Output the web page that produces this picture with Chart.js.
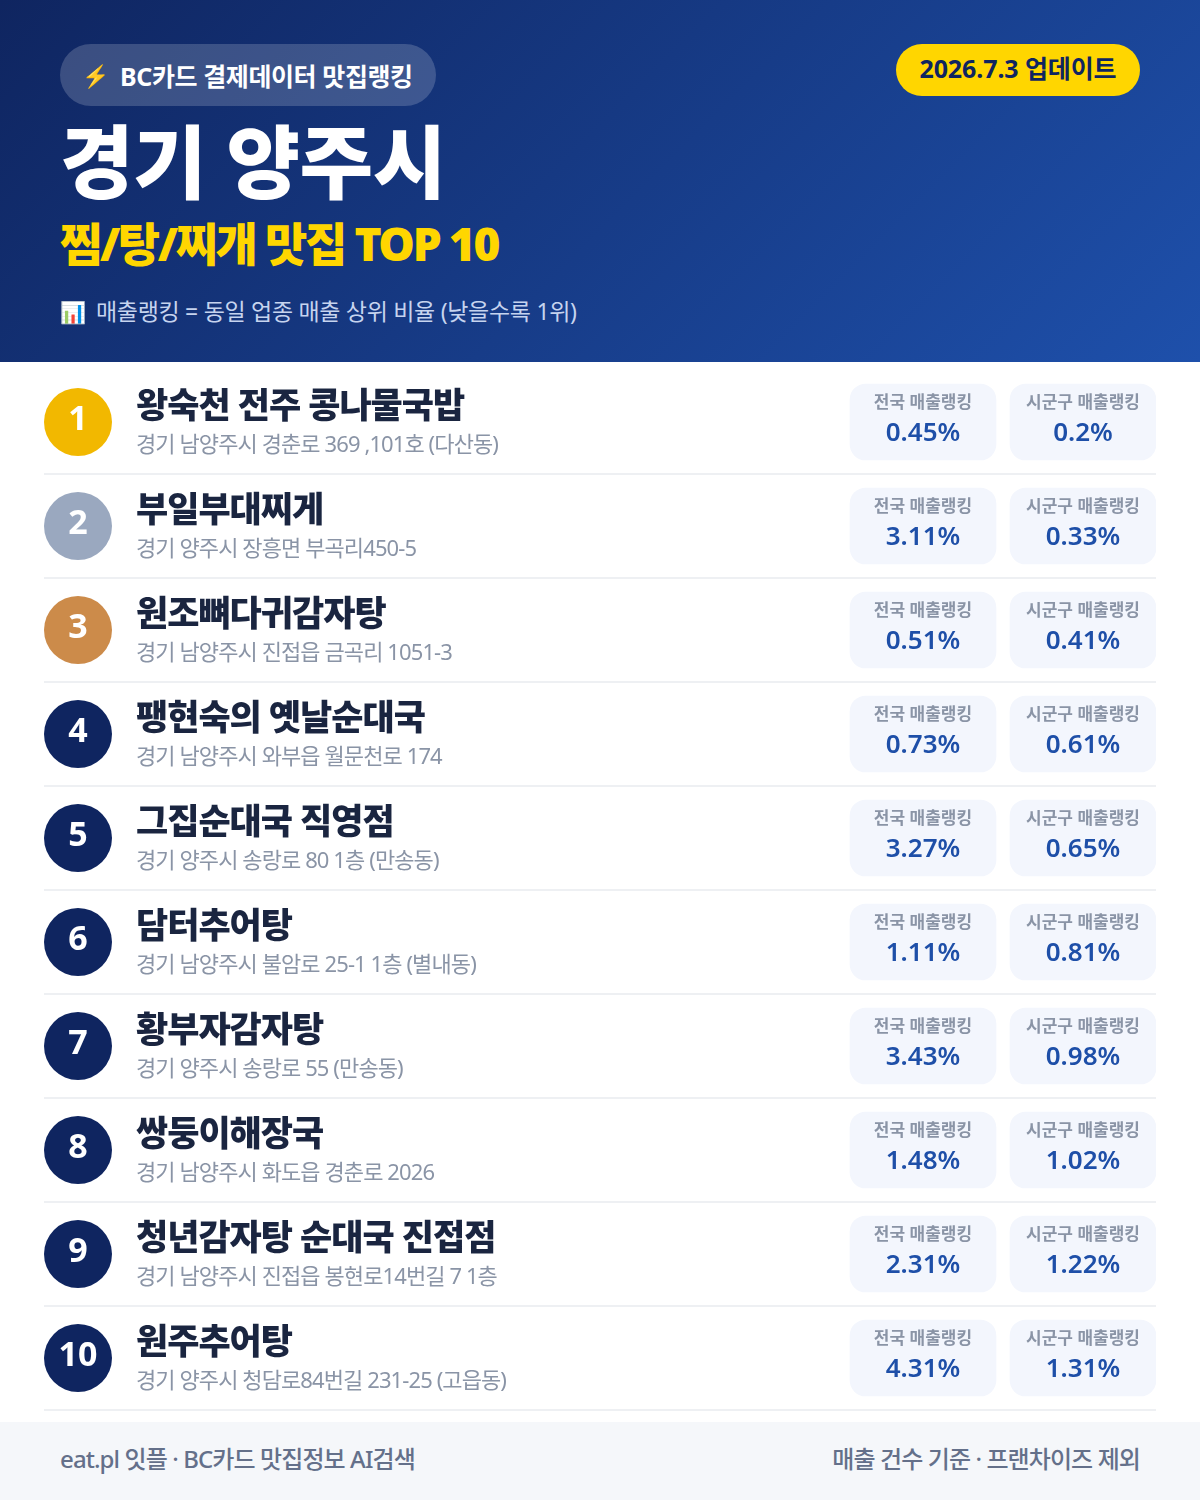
<!DOCTYPE html>
<html lang="ko">
<head>
<meta charset="utf-8">
<title>경기 양주시 찜/탕/찌개 맛집 TOP 10</title>
<script src="https://cdn.jsdelivr.net/npm/chart.js@4/dist/chart.umd.min.js"></script>
<style>
  * { box-sizing: border-box; }
  html, body { margin: 0; padding: 0; background: #fff; }
  body { width: 1200px; height: 1500px; position: relative; overflow: hidden; font-family: "Noto Sans", "Noto Sans CJK KR", sans-serif; }
  .header { position: absolute; left: 0; top: 0; width: 1200px; height: 362px; background: linear-gradient(135deg, #0f2560 0%, #1e50ab 100%); }
  .badge { position: absolute; left: 60px; top: 44px; width: 376px; height: 62px; border-radius: 31px; background: rgba(255,255,255,.18); color: #fff; font-size: 25px; font-weight: 700; line-height: 62px; white-space: nowrap; letter-spacing: -0.4px; }
  .badge .icon { position: absolute; left: 22px; top: 0; font-size: 22px; }
  .badge .txt { position: absolute; left: 60px; top: 1px; }
  .update { position: absolute; left: 896px; top: 44px; width: 244px; height: 52px; border-radius: 26px; background: #ffd600; color: #0f2560; font-size: 25px; font-weight: 700; line-height: 48px; text-align: center; white-space: nowrap; letter-spacing: -0.1px; }
  h1 { position: absolute; left: 60px; top: 103px; margin: 0; color: #fff; font-size: 80px; font-weight: 900; line-height: 116px; white-space: nowrap; letter-spacing: -0.5px; }
  h2 { position: absolute; left: 60px; top: 209px; margin: 0; color: #ffd600; font-size: 46px; font-weight: 900; line-height: 68px; white-space: nowrap; letter-spacing: -2.4px; }
  .note { position: absolute; left: 60px; top: 292px; color: #c6d4ef; font-size: 23px; line-height: 38px; white-space: nowrap; }
  .note .icon { font-size: 21px; }
  .note .txt { position: absolute; left: 36px; top: 0; letter-spacing: -0.3px; }
  .chart-wrap { position: absolute; left: 0; top: 362px; width: 1200px; height: 1060px; }
  .footer { position: absolute; left: 0; top: 1422px; width: 1200px; height: 78px; background: #f5f7fa; color: #64708a; font-size: 24px; font-weight: 500; line-height: 74px; letter-spacing: -0.9px; }
  .footer .l { position: absolute; left: 60px; }
  .footer .r { position: absolute; right: 60px; }
</style>
</head>
<body>
<div class="header">
  <div class="badge"><span class="icon">⚡</span><span class="txt">BC카드 결제데이터 맛집랭킹</span></div>
  <div class="update">2026.7.3 업데이트</div>
  <h1>경기 양주시</h1>
  <h2>찜/탕/찌개 맛집 TOP 10</h2>
  <div class="note"><span class="icon">📊</span><span class="txt">매출랭킹 = 동일 업종 매출 상위 비율 (낮을수록 1위)</span></div>
</div>
<div class="chart-wrap"><canvas id="rankChart" width="1200" height="1060"></canvas></div>
<div class="footer"><span class="l">eat.pl 잇플 · BC카드 맛집정보 AI검색</span><span class="r">매출 건수 기준 · 프랜차이즈 제외</span></div>
<script>
const ranks = ["1", "2", "3", "4", "5", "6", "7", "8", "9", "10"];
const names = ["왕숙천 전주 콩나물국밥", "부일부대찌게", "원조뼈다귀감자탕", "팽현숙의 옛날순대국", "그집순대국 직영점", "담터추어탕", "황부자감자탕", "쌍둥이해장국", "청년감자탕 순대국 진접점", "원주추어탕"];
const addresses = [
  "경기 남양주시 경춘로 369 ,101호 (다산동)",
  "경기 양주시 장흥면 부곡리450-5",
  "경기 남양주시 진접읍 금곡리 1051-3",
  "경기 남양주시 와부읍 월문천로 174",
  "경기 양주시 송랑로 80 1층 (만송동)",
  "경기 남양주시 불암로 25-1 1층 (별내동)",
  "경기 양주시 송랑로 55 (만송동)",
  "경기 남양주시 화도읍 경춘로 2026",
  "경기 남양주시 진접읍 봉현로14번길 7 1층",
  "경기 양주시 청담로84번길 231-25 (고읍동)"
];
const nationalPct = [0.45, 3.11, 0.51, 0.73, 3.27, 1.11, 3.43, 1.48, 2.31, 4.31];
const cityPct = [0.2, 0.33, 0.41, 0.61, 0.65, 0.81, 0.98, 1.02, 1.22, 1.31];
const nationalLabel = "전국 매출랭킹";
const cityLabel = "시군구 매출랭킹";

const FONT = '"Noto Sans", "Noto Sans CJK KR", sans-serif';
const medalColors = ["#f2b800", "#9aa8bf", "#cc8b4a"];
const navy = "#0f2560";
const NAT_CARD = [850, 996];
const CITY_CARD = [1010, 1156];
const RANK_X = 78;
const TEXT_X = 136;

// rank numbers, names and card text sit on the same scales as the marks
const rowText = {
  id: "rowText",
  afterDatasetsDraw(chart) {
    const { ctx, scales: { x, y } } = chart;
    const put = (txt, px, py, font, color, align, spacing) => {
      ctx.font = font;
      ctx.fillStyle = color;
      ctx.textAlign = align;
      ctx.textBaseline = "middle";
      ctx.letterSpacing = spacing || "0px";
      ctx.fillText(txt, px, py);
    };
    const natMid = x.getPixelForValue((NAT_CARD[0] + NAT_CARD[1]) / 2);
    const cityMid = x.getPixelForValue((CITY_CARD[0] + CITY_CARD[1]) / 2);
    ctx.save();
    ranks.forEach((r, i) => {
      const py = y.getPixelForValue(i);
      put(r, x.getPixelForValue(RANK_X), py - 2, `700 34px ${FONT}`, "#fff", "center");
      put(names[i], x.getPixelForValue(TEXT_X), py - 14, `900 35px ${FONT}`, "#1a2540", "left", "-1px");
      put(addresses[i], x.getPixelForValue(TEXT_X), py + 24, `400 22px ${FONT}`, "#8a94a6", "left", "-0.9px");
      put(nationalLabel, natMid, py - 19, `700 17px ${FONT}`, "#8a94a6", "center");
      put(nationalPct[i] + "%", natMid, py + 12, `600 26px ${FONT}`, "#1e4fa8", "center");
      put(cityLabel, cityMid, py - 19, `700 17px ${FONT}`, "#8a94a6", "center");
      put(cityPct[i] + "%", cityMid, py + 12, `600 26px ${FONT}`, "#1e4fa8", "center");
    });
    ctx.restore();
  }
};

new Chart(document.getElementById("rankChart"), {
  type: "bar",
  data: {
    labels: ranks,
    datasets: [
      {
        type: "line",
        label: "순위",
        indexAxis: "y",
        showLine: false,
        data: ranks.map(r => ({ x: RANK_X, y: r })),
        pointRadius: 34,
        pointHoverRadius: 34,
        pointBorderWidth: 0,
        pointBackgroundColor: ranks.map((r, i) => medalColors[i] || navy)
      },
      {
        label: nationalLabel,
        grouped: false,
        data: nationalPct.map(() => NAT_CARD),
        backgroundColor: "#f3f6fd",
        borderRadius: 16,
        borderSkipped: false,
        barThickness: 76
      },
      {
        label: cityLabel,
        grouped: false,
        data: cityPct.map(() => CITY_CARD),
        backgroundColor: "#f3f6fd",
        borderRadius: 16,
        borderSkipped: false,
        barThickness: 76
      }
    ]
  },
  options: {
    indexAxis: "y",
    responsive: false,
    animation: false,
    layout: { autoPadding: false, padding: { left: 44, right: 44, top: 8, bottom: 12 } },
    plugins: { legend: { display: false }, tooltip: { enabled: false } },
    scales: {
      x: { type: "linear", display: false, min: 44, max: 1156 },
      y: {
        type: "category",
        offset: true,
        ticks: { display: false },
        border: { display: false },
        grid: {
          offset: true,
          drawTicks: false,
          lineWidth: 2,
          color: c => (c.index === 0 ? "transparent" : "#eef0f3")
        }
      }
    }
  },
  plugins: [rowText]
});
</script>
</body>
</html>
